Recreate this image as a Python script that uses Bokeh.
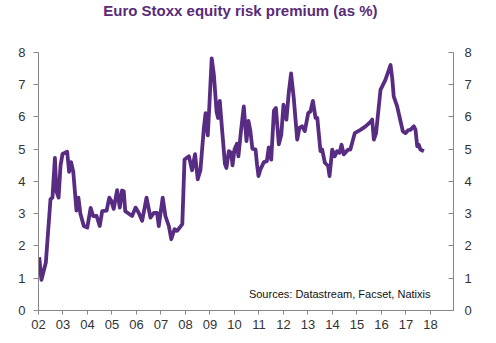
from bokeh.plotting import figure
from bokeh.models import Range1d, LinearAxis, FixedTicker, Label
from bokeh.embed import file_html
from bokeh.resources import INLINE

# decimal years and risk premium (%)
years = [2002.03, 2002.12, 2002.30, 2002.49, 2002.57, 2002.67, 2002.73, 2002.82, 2002.90, 2002.98,
         2003.17, 2003.25, 2003.33, 2003.42, 2003.55, 2003.63, 2003.71, 2003.85, 2003.99,
         2004.13, 2004.23, 2004.37, 2004.50, 2004.60, 2004.78, 2004.89, 2004.97,
         2005.07, 2005.21, 2005.32, 2005.41, 2005.48, 2005.54, 2005.69, 2005.82, 2005.96,
         2006.09, 2006.23, 2006.41, 2006.57, 2006.71, 2006.84, 2006.91,
         2007.07, 2007.18, 2007.32, 2007.42, 2007.55, 2007.66, 2007.87, 2007.96,
         2008.14, 2008.27, 2008.39, 2008.50, 2008.61, 2008.75, 2008.82, 2008.91, 2008.97,
         2009.07, 2009.16, 2009.27, 2009.33, 2009.40, 2009.50, 2009.61, 2009.67, 2009.77, 2009.87, 2009.92,
         2010.00, 2010.10, 2010.16, 2010.27, 2010.38, 2010.49, 2010.57, 2010.65, 2010.73, 2010.86, 2010.92, 2010.98,
         2011.06, 2011.20, 2011.32, 2011.40, 2011.50, 2011.61, 2011.69, 2011.81, 2011.91,
         2012.00, 2012.12, 2012.22, 2012.31, 2012.42, 2012.56, 2012.65, 2012.76, 2012.87,
         2013.01, 2013.10, 2013.20, 2013.31, 2013.38, 2013.51, 2013.58, 2013.69, 2013.82, 2013.88, 2013.99,
         2014.09, 2014.19, 2014.29, 2014.37, 2014.46, 2014.64, 2014.73, 2014.91,
         2015.14, 2015.35, 2015.55, 2015.62, 2015.69, 2015.78, 2015.96,
         2016.16, 2016.37, 2016.44, 2016.50, 2016.64, 2016.78, 2016.87, 2016.98,
         2017.09, 2017.18, 2017.32, 2017.39, 2017.46, 2017.52, 2017.59, 2017.73]

premium = [1.65, 0.95, 1.49, 3.45, 3.50, 4.73, 3.70, 3.50, 4.50, 4.85,
           4.92, 4.30, 4.60, 4.30, 3.10, 3.50, 3.00, 2.62, 2.57,
           3.18, 2.93, 2.93, 2.62, 3.08, 3.10, 3.50, 3.40,
           3.15, 3.73, 3.19, 3.72, 3.70, 3.08, 3.00, 2.93, 3.19,
           3.03, 2.78, 3.50, 2.88, 3.03, 3.03, 2.62,
           3.50, 2.93, 2.62, 2.21, 2.52, 2.47, 2.68, 4.68,
           4.78, 4.35, 4.85, 4.07, 4.35, 5.66, 6.12, 5.43, 6.28,
           7.82, 7.30, 6.15, 5.97, 6.50, 5.55, 4.55, 4.42, 4.94, 4.89, 4.50,
           4.99, 5.17, 4.78, 5.60, 6.33, 5.25, 5.88, 5.56, 5.02, 4.99, 4.53, 4.17,
           4.37, 4.60, 4.63, 5.06, 4.68, 6.20, 6.28, 5.15, 5.45,
           6.38, 5.92, 6.79, 7.35, 6.58, 5.30, 5.66, 5.71, 5.56,
           6.12, 6.17, 6.50, 5.97, 5.97, 4.94, 4.99, 4.58, 4.48, 4.17, 4.99,
           4.78, 4.94, 4.89, 5.14, 4.84, 4.99, 4.99, 5.50,
           5.60, 5.71, 5.85, 5.92, 5.30, 5.50, 6.84,
           7.15, 7.61, 7.20, 6.64, 6.33, 5.86, 5.56, 5.50,
           5.59, 5.60, 5.71, 5.60, 5.09, 5.14, 4.99, 4.94]

tick_years = [2002, 2003, 2004, 2005, 2006, 2007, 2008, 2009, 2010,
              2011, 2012, 2013, 2014, 2015, 2016, 2017, 2018]
tick_labels = ["02", "03", "04", "05", "06", "07", "08", "09", "10",
               "11", "12", "13", "14", "15", "16", "17", "18"]
y_ticks = [0, 1, 2, 3, 4, 5, 6, 7, 8]

FONT = "Liberation Sans"
AXIS_COLOR = "#868686"
LABEL_COLOR = "#333333"
LINE_COLOR = "#582c83"

# frame spans the full height above the x axis; the axes themselves stop at 8
p = figure(width=496, height=343, output_backend="svg", toolbar_location=None,
           x_range=Range1d(2002, 2018.94), y_range=Range1d(0, 9.612),
           min_border_left=38, min_border_right=43, min_border_top=0, min_border_bottom=33,
           x_axis_location="below", y_axis_location="left")
p.outline_line_color = None
p.grid.visible = False
p.background_fill_color = "white"
p.border_fill_color = "white"

p.line(years, premium, line_color=LINE_COLOR, line_width=3.8, line_join="round")

right = LinearAxis()
p.add_layout(right, "right")

for ax in [p.yaxis[0], right]:
    ax.ticker = FixedTicker(ticks=y_ticks)
    ax.minor_tick_line_color = None
    ax.bounds = (0, 8)

p.yaxis[0].major_tick_out = 5
p.yaxis[0].major_tick_in = 0
p.yaxis[0].major_label_standoff = 8
right.major_tick_in = 5
right.major_tick_out = 0
right.major_label_standoff = 11

xa = p.xaxis[0]
xa.ticker = FixedTicker(ticks=tick_years)
xa.major_label_overrides = {y: l for y, l in zip(tick_years, tick_labels)}
xa.minor_tick_line_color = None
xa.major_tick_out = 4
xa.major_tick_in = 0
xa.major_label_standoff = 5

for ax in [p.yaxis[0], right, xa]:
    ax.axis_line_color = AXIS_COLOR
    ax.major_tick_line_color = AXIS_COLOR
    ax.major_label_text_font = FONT
    ax.major_label_text_font_size = "13px"
    ax.major_label_text_color = LABEL_COLOR

p.add_layout(Label(x=2010.24, y=9.30, text="Euro Stoxx equity risk premium (as %)",
                   text_font=FONT, text_font_size="15px", text_font_style="bold",
                   text_color="#5a2a78", text_align="center", text_baseline="middle"))

p.add_layout(Label(x=2018.0, y=0.52, text="Sources: Datastream, Facset, Natixis",
                   text_font=FONT, text_font_size="11px", text_color="#111111",
                   text_align="right", text_baseline="middle"))

open("out.html", "w").write(file_html(p, INLINE))
